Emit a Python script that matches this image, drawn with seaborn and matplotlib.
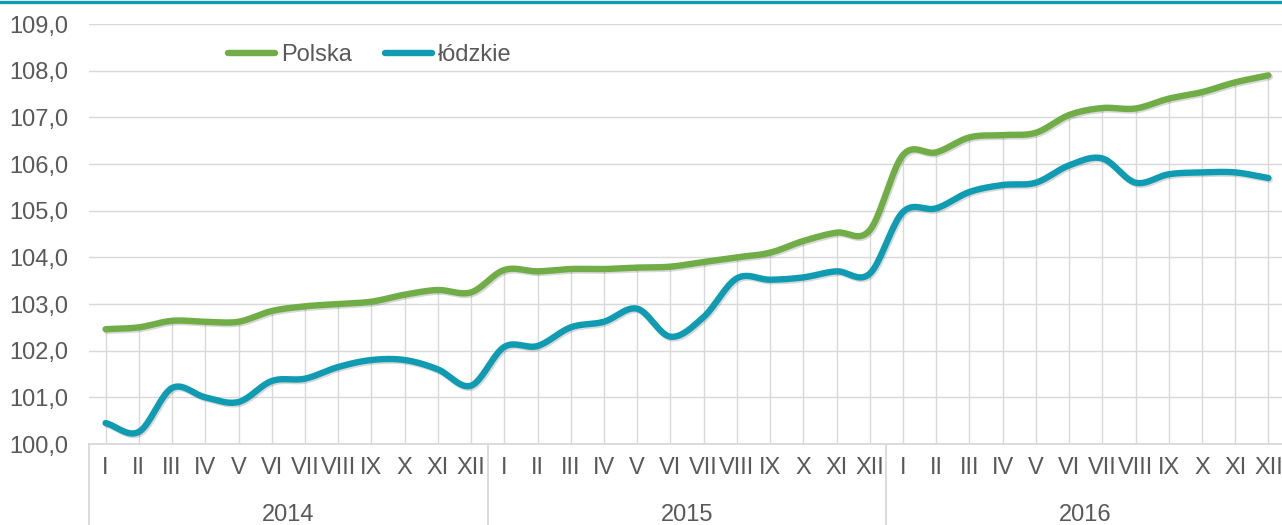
import numpy as np
import pandas as pd
import matplotlib
matplotlib.use('Agg')
import matplotlib.pyplot as plt
import matplotlib.ticker as ticker
import matplotlib.patheffects as pe
import matplotlib.transforms as mtransforms
from matplotlib.lines import Line2D
import seaborn as sns

# colours
COLOUR_PL   = '#70AD47'
COLOUR_LDZ  = '#0F9BB1'
COLOUR_TEXT = '#595959'
COLOUR_GRID = '#D9D9D9'
FONT_TICK   = 17

# data
years  = ['2014', '2015', '2016']
months = ['I', 'II', 'III', 'IV', 'V', 'VI', 'VII', 'VIII', 'IX', 'X', 'XI', 'XII']

polska = [102.46, 102.50, 102.64, 102.62, 102.62, 102.85, 102.95, 103.00, 103.05, 103.20, 103.30, 103.25,
          103.73, 103.70, 103.75, 103.75, 103.78, 103.80, 103.90, 104.00, 104.10, 104.35, 104.53, 104.58,
          106.19, 106.25, 106.57, 106.62, 106.67, 107.05, 107.20, 107.19, 107.40, 107.54, 107.75, 107.90]

lodzkie = [100.45, 100.26, 101.20, 101.00, 100.90, 101.35, 101.40, 101.65, 101.80, 101.80, 101.60, 101.25,
           102.08, 102.10, 102.50, 102.62, 102.90, 102.30, 102.72, 103.55, 103.52, 103.57, 103.70, 103.65,
           104.97, 105.05, 105.40, 105.55, 105.60, 105.97, 106.12, 105.60, 105.78, 105.82, 105.82, 105.70]

series = {'Polska': (polska, COLOUR_PL), 'łódzkie': (lodzkie, COLOUR_LDZ)}


def smooth(y, steps=20):
    # catmull-rom path through the points, like excel's "smoothed line"
    y = np.asarray(y, dtype=float)
    x = np.arange(len(y), dtype=float)
    px = np.concatenate([[2 * x[0] - x[1]], x, [2 * x[-1] - x[-2]]])
    py = np.concatenate([[2 * y[0] - y[1]], y, [2 * y[-1] - y[-2]]])
    t = np.linspace(0, 1, steps, endpoint=False)
    out_x, out_y = [], []
    for i in range(1, len(px) - 2):
        for p, out in ((px, out_x), (py, out_y)):
            p0, p1, p2, p3 = p[i - 1], p[i], p[i + 1], p[i + 2]
            out.extend(0.5 * (2 * p1 + (-p0 + p2) * t + (2 * p0 - 5 * p1 + 4 * p2 - p3) * t ** 2
                              + (-p0 + 3 * p1 - 3 * p2 + p3) * t ** 3))
    out_x.append(x[-1])
    out_y.append(y[-1])
    return np.array(out_x), np.array(out_y)


sns.set_theme(style='white')
plt.rcParams['font.family'] = ['Liberation Sans', 'DejaVu Sans']

fig = plt.figure(figsize=(12.82, 5.25), dpi=100)
ax = fig.add_axes([89 / 1282, 1 - 444 / 525, 1196 / 1282, 420 / 525])

n = len(polska)
xs = np.arange(n)

# drop lines from the top series down to the axis
ax.vlines(xs, 100, polska, color=COLOUR_GRID, linewidth=1, zorder=1)

shadow = [pe.SimpleLineShadow(offset=(1.0, -1.2), shadow_color='#000000', alpha=0.15), pe.Normal()]
for name, (vals, colour) in series.items():
    sx, sy = smooth(vals)
    sns.lineplot(x=sx, y=sy, ax=ax, color=colour, linewidth=4.6, sort=False,
                 solid_capstyle='round', path_effects=shadow, zorder=3)

ax.set_xlim(-0.5, n - 0.5)
ax.set_ylim(100, 109)
ax.yaxis.set_major_locator(ticker.MultipleLocator(1))
ax.yaxis.set_major_formatter(ticker.FuncFormatter(lambda v, _: f'{v:.1f}'.replace('.', ',')))
ax.grid(axis='y', color=COLOUR_GRID, linewidth=1)
ax.set_axisbelow(True)

ax.set_xticks(xs)
ax.set_xticklabels(months * len(years))
ax.tick_params(axis='x', length=0, pad=9, labelsize=FONT_TICK, colors=COLOUR_TEXT)
ax.tick_params(axis='y', length=0, pad=15, labelsize=FONT_TICK, colors=COLOUR_TEXT)

for side in ['top', 'right', 'left']:
    ax.spines[side].set_visible(False)
ax.spines['bottom'].set_color(COLOUR_GRID)
ax.spines['bottom'].set_linewidth(1.3)

# year level of the category axis
trans = mtransforms.blended_transform_factory(ax.transData, ax.transAxes)
for i, year in enumerate(years):
    ax.text(i * 12 + 5.5, -0.17, year, transform=trans, ha='center', va='center',
            fontsize=FONT_TICK, color=COLOUR_TEXT)
for b in range(len(years) + 1):
    ax.plot([b * 12 - 0.5] * 2, [0, -0.3], transform=trans, color=COLOUR_GRID,
            linewidth=1.3, clip_on=False)

# teal band along the top of the picture
fig.add_artist(Line2D([0, 1], [1 - 1.5 / 525] * 2, color=COLOUR_LDZ, linewidth=2.4))

handles = [Line2D([], [], color=c, linewidth=4.6, solid_capstyle='round') for _, c in series.values()]
fig.legend(handles, list(series.keys()), loc='center', bbox_to_anchor=(370 / 1282, 1 - 55 / 525),
           ncol=2, frameon=False, fontsize=FONT_TICK, labelcolor=COLOUR_TEXT,
           handlelength=2.0, handletextpad=0.25, columnspacing=1.4)

fig.savefig('out.png', dpi=100)
